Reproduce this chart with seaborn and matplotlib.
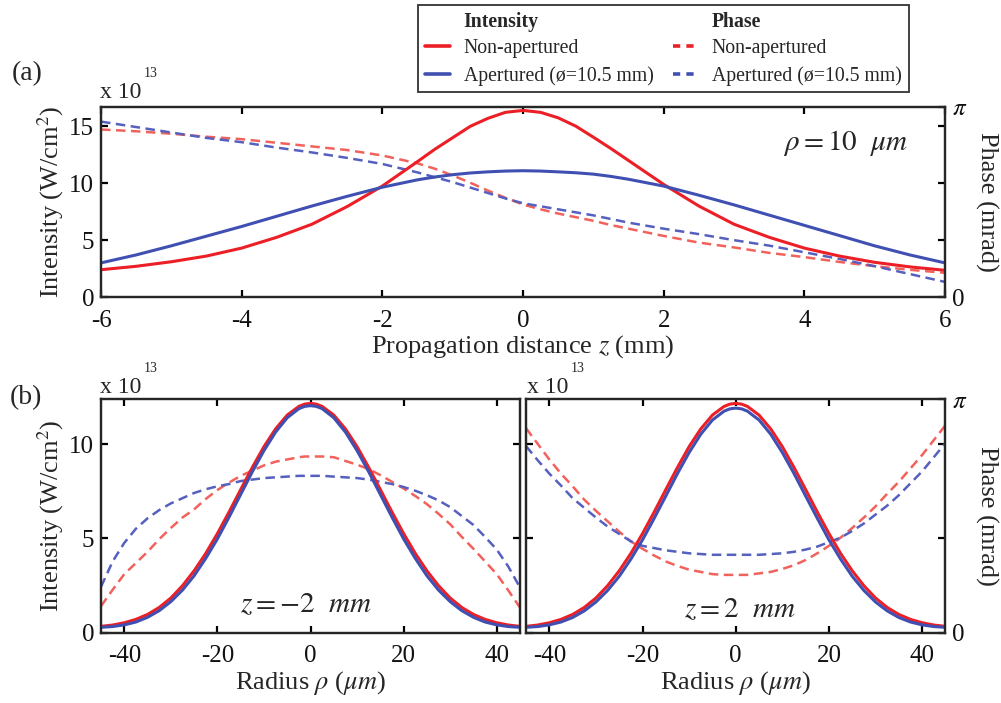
import numpy as np
import matplotlib
matplotlib.use("Agg")
import matplotlib.pyplot as plt
from matplotlib.lines import Line2D
import seaborn as sns

# ---------------- data ----------------
# (a) profiles at rho = 10 um along the propagation distance z (mm)
z = [-6, -5.5, -5, -4.5, -4, -3.5, -3, -2.5, -2, -1.5, -1.25, -1, -0.75, -0.5, -0.25, 0,
     0.25, 0.5, 0.75, 1, 1.25, 1.5, 2, 2.5, 3, 3.5, 4, 4.5, 5, 5.5, 6]
int_z_nonap = [2.4, 2.7, 3.1, 3.6, 4.3, 5.25, 6.4, 7.95, 9.75, 11.9, 13.0, 14.0, 15.0, 15.7, 16.23, 16.4,
               16.23, 15.75, 15.02, 14.05, 13.05, 12.0, 9.9, 8.0, 6.4, 5.25, 4.3, 3.6, 3.05, 2.65, 2.35]  # x 1e13 W/cm^2
int_z_ap = [3.0, 3.7, 4.5, 5.35, 6.2, 7.1, 8.0, 8.85, 9.65, 10.3, 10.55, 10.75, 10.9, 11.0, 11.07, 11.1,
            11.07, 11.0, 10.92, 10.8, 10.6, 10.35, 9.75, 8.95, 8.1, 7.2, 6.3, 5.4, 4.5, 3.7, 3.0]
phase_z_nonap = [2.77, 2.74, 2.70, 2.65, 2.61, 2.55, 2.49, 2.43, 2.34, 2.21, 2.12, 2.01, 1.89, 1.76, 1.64, 1.53,
                 1.45, 1.38, 1.32, 1.26, 1.19, 1.13, 1.01, 0.90, 0.82, 0.73, 0.66, 0.58, 0.51, 0.45, 0.40]  # rad
phase_z_ap = [2.90, 2.81, 2.72, 2.63, 2.56, 2.47, 2.39, 2.30, 2.20, 2.06, 1.98, 1.90, 1.81, 1.72, 1.63, 1.55,
              1.50, 1.45, 1.40, 1.35, 1.29, 1.23, 1.13, 1.04, 0.94, 0.85, 0.74, 0.63, 0.51, 0.38, 0.25]

# (b) radial profiles (rho in um) at z = -2 mm and z = 2 mm
rho = [-45, -42.5, -40, -37.5, -35, -32.5, -30, -27.5, -25, -22.5, -20, -17.5, -15, -12.5,
       -10, -7.5, -5, -2.5, -1.25, 0, 1.25, 2.5, 5, 7.5, 10, 12.5, 15, 17.5, 20, 22.5, 25, 27.5, 30,
       32.5, 35, 37.5, 40, 42.5, 45]

int_m2_nonap = [0.35, 0.42, 0.54, 0.72, 0.98, 1.35, 1.85, 2.50, 3.29, 4.21, 5.26, 6.40, 7.59, 8.76,
                9.86, 10.80, 11.53, 11.99, 12.11, 12.15, 12.11, 11.99, 11.53, 10.80, 9.86, 8.76, 7.59,
                6.40, 5.26, 4.21, 3.29, 2.50, 1.85, 1.35, 0.98, 0.72, 0.54, 0.42, 0.35]
int_m2_ap = [0.30, 0.34, 0.43, 0.58, 0.83, 1.18, 1.66, 2.27, 3.03, 3.95, 4.98, 6.13, 7.33, 8.53,
             9.65, 10.63, 11.39, 11.87, 11.99, 12.03, 11.99, 11.87, 11.39, 10.63, 9.65, 8.53, 7.33,
             6.13, 4.98, 3.95, 3.03, 2.27, 1.66, 1.18, 0.83, 0.58, 0.43, 0.34, 0.30]
phase_m2_nonap = [0.36, 0.58, 0.79, 0.94, 1.09, 1.26, 1.41, 1.55, 1.66, 1.80, 1.92, 2.02, 2.11, 2.18,
                  2.25, 2.30, 2.33, 2.36, 2.37, 2.37, 2.37, 2.37, 2.36, 2.31, 2.26, 2.20, 2.12,
                  2.03, 1.94, 1.84, 1.73, 1.60, 1.46, 1.29, 1.13, 0.96, 0.79, 0.57, 0.34]
phase_m2_ap = [0.62, 0.96, 1.21, 1.40, 1.54, 1.65, 1.74, 1.81, 1.88, 1.93, 1.97, 2.00, 2.04, 2.06,
               2.08, 2.09, 2.10, 2.11, 2.11, 2.11, 2.11, 2.11, 2.10, 2.09, 2.08, 2.06, 2.03,
               2.00, 1.96, 1.91, 1.85, 1.78, 1.69, 1.57, 1.45, 1.29, 1.12, 0.89, 0.61]

int_p2_nonap = [0.35, 0.42, 0.54, 0.72, 0.98, 1.35, 1.85, 2.50, 3.29, 4.21, 5.26, 6.40, 7.59, 8.76,
                9.86, 10.80, 11.53, 11.99, 12.11, 12.15, 12.11, 11.99, 11.53, 10.80, 9.86, 8.76, 7.59,
                6.40, 5.26, 4.21, 3.29, 2.50, 1.85, 1.35, 0.98, 0.72, 0.54, 0.42, 0.35]
int_p2_ap = [0.30, 0.34, 0.43, 0.58, 0.82, 1.17, 1.64, 2.25, 3.00, 3.91, 4.93, 6.07, 7.25, 8.44,
             9.55, 10.52, 11.27, 11.74, 11.86, 11.90, 11.86, 11.74, 11.27, 10.52, 9.55, 8.44, 7.25,
             6.07, 4.93, 3.91, 3.00, 2.25, 1.64, 1.17, 0.82, 0.58, 0.43, 0.34, 0.30]
phase_p2_nonap = [2.75, 2.54, 2.33, 2.14, 1.97, 1.79, 1.64, 1.50, 1.36, 1.23, 1.13, 1.04, 0.96, 0.90,
                  0.85, 0.82, 0.79, 0.78, 0.78, 0.78, 0.78, 0.78, 0.80, 0.82, 0.86, 0.91, 0.98,
                  1.07, 1.17, 1.28, 1.41, 1.55, 1.70, 1.87, 2.03, 2.21, 2.39, 2.59, 2.79]
phase_p2_ap = [2.51, 2.32, 2.14, 1.98, 1.81, 1.68, 1.55, 1.43, 1.33, 1.23, 1.17, 1.14, 1.11, 1.09,
               1.07, 1.06, 1.05, 1.05, 1.05, 1.05, 1.05, 1.05, 1.05, 1.06, 1.07, 1.09, 1.12,
               1.16, 1.22, 1.28, 1.37, 1.47, 1.59, 1.71, 1.85, 2.01, 2.17, 2.36, 2.55]

z_ticks = [-6, -4, -2, 0, 2, 4, 6]
rho_ticks = [-40, -20, 0, 20, 40]
int_ticks_a = [0, 5, 10, 15]
int_ticks_b = [0, 5, 10]
INT_TOP_A = 16.7
INT_TOP_B = 12.38

# ---------------- style ----------------
sns.set_theme(style="ticks")
plt.rcParams["font.family"] = ["Liberation Serif", "DejaVu Serif"]
plt.rcParams["mathtext.fontset"] = "stix"
plt.rcParams["axes.unicode_minus"] = False
plt.rcParams["axes.linewidth"] = 1.6
for k in ("xtick", "ytick"):
    plt.rcParams[f"{k}.direction"] = "in"
    plt.rcParams[f"{k}.major.size"] = 5
    plt.rcParams[f"{k}.major.width"] = 1.6
    plt.rcParams[f"{k}.labelsize"] = 18
    plt.rcParams[f"{k}.color"] = "black"
    plt.rcParams[f"{k}.labelcolor"] = "#111111"

RED = "#ec1f26"
BLUE = "#4050b2"
RED_D = "#f2625c"
BLUE_D = "#5560bf"
LW_SOLID = 2.2
LW_DASH = 1.8
DASH = (0, (3.8, 2.2))
FS_LABEL = 19

fig = plt.figure(figsize=(10.01, 7.03), dpi=100)
ax_a = fig.add_axes([0.1009, 0.5775, 0.8431, 0.2703])
ax_b1 = fig.add_axes([0.1009, 0.0996, 0.4186, 0.3328])
ax_b2 = fig.add_axes([0.5255, 0.0996, 0.4190, 0.3328])


def draw(ax, x, i_non, i_ap, p_non, p_ap, xlim, ylim_top):
    ax2 = ax.twinx()
    sns.lineplot(x=x, y=p_non, ax=ax2, color=RED_D, lw=LW_DASH, linestyle=DASH)
    sns.lineplot(x=x, y=p_ap, ax=ax2, color=BLUE_D, lw=LW_DASH, linestyle=DASH)
    sns.lineplot(x=x, y=i_non, ax=ax, color=RED, lw=LW_SOLID)
    sns.lineplot(x=x, y=i_ap, ax=ax, color=BLUE, lw=LW_SOLID)
    for ln in ax.get_lines() + ax2.get_lines():
        ln.set_solid_joinstyle("round")
    ax.set_zorder(ax2.get_zorder() + 1)
    ax.patch.set_visible(False)
    ax.set_xlim(*xlim)
    ax.set_ylim(0, ylim_top)
    ax2.set_ylim(0, np.pi)
    ax.set_xlabel("")
    ax.set_ylabel("")
    ax2.set_ylabel("")
    ax.tick_params(axis="x", top=True, pad=9)
    ax.tick_params(axis="y", right=False, pad=5)
    ax2.tick_params(axis="y", pad=5)
    for s in ax2.spines.values():
        s.set_linewidth(1.6)
    return ax2


# (a)
ax_a2 = draw(ax_a, z, int_z_nonap, int_z_ap, phase_z_nonap, phase_z_ap, (-6, 6), INT_TOP_A)
ax_a.set_xticks(z_ticks)
ax_a.set_yticks(int_ticks_a)
ax_a.set_xlabel("Propagation distance $z$ (mm)", fontsize=FS_LABEL, labelpad=1)
ax_a.set_ylabel("Intensity (W/cm$^2$)", fontsize=FS_LABEL, labelpad=2)
rt = [0] + [t / INT_TOP_A * np.pi for t in int_ticks_a[1:]] + [np.pi]
ax_a2.set_yticks(rt)
ax_a2.set_yticklabels(["0"] + [""] * (len(rt) - 2) + [r"$\pi$"])
ax_a2.set_ylabel("Phase (mrad)", fontsize=FS_LABEL, rotation=270, labelpad=22)
ax_a.text(3.7, 13.5, r"$\rho = 10\ \ \mu m$", fontsize=21, va="center", ha="left")

# (b) z = -2 mm
ax_b1r = draw(ax_b1, rho, int_m2_nonap, int_m2_ap, phase_m2_nonap, phase_m2_ap, (-45, 45), INT_TOP_B)
ax_b1.set_xticks(rho_ticks)
ax_b1.set_yticks(int_ticks_b)
ax_b1r.set_yticks([t / INT_TOP_B * np.pi for t in int_ticks_b[1:]])
ax_b1r.set_yticklabels([])
ax_b1.set_xlabel(r"Radius $\rho$ ($\mu m$)", fontsize=FS_LABEL, labelpad=1)
ax_b1.set_ylabel("Intensity (W/cm$^2$)", fontsize=FS_LABEL, labelpad=2)
ax_b1.text(-1, 1.5, r"$z = -2\ \ mm$", fontsize=21, va="center", ha="center")

# (b) z = 2 mm
ax_b2r = draw(ax_b2, rho, int_p2_nonap, int_p2_ap, phase_p2_nonap, phase_p2_ap, (-45, 45), INT_TOP_B)
ax_b2.set_xticks(rho_ticks)
ax_b2.set_yticks(int_ticks_b)
ax_b2.set_yticklabels([])
rb = [0] + [t / INT_TOP_B * np.pi for t in int_ticks_b[1:]] + [np.pi]
ax_b2r.set_yticks(rb)
ax_b2r.set_yticklabels(["0"] + [""] * (len(rb) - 2) + [r"$\pi$"])
ax_b2.set_xlabel(r"Radius $\rho$ ($\mu m$)", fontsize=FS_LABEL, labelpad=1)
ax_b2r.set_ylabel("Phase (mrad)", fontsize=FS_LABEL, rotation=270, labelpad=22)
ax_b2.text(1, 1.2, r"$z = 2\ \ mm$", fontsize=21, va="center", ha="center")

# scale factors and panel tags
for (xp, yb, ys) in [(0.100, 0.861, 0.895), (0.100, 0.441, 0.476), (0.526, 0.441, 0.476)]:
    fig.text(xp, yb, "x 10", fontsize=17, ha="left", va="baseline")
    fig.text(xp + 0.044, ys, "13", fontsize=10, ha="left", va="center")
fig.text(0.012, 0.895, "(a)", fontsize=20, va="center")
fig.text(0.010, 0.434, "(b)", fontsize=20, va="center")

# legend
blank = Line2D([], [], color="none")
handles = [blank,
           Line2D([], [], color=RED, lw=2.6),
           Line2D([], [], color=BLUE, lw=2.6),
           blank,
           Line2D([], [], color=RED, lw=2.6, linestyle=(0, (2.0, 1.7))),
           Line2D([], [], color=BLUE, lw=2.6, linestyle=(0, (2.0, 1.7)))]
labels = ["Intensity", "Non-apertured", "Apertured (ø=10.5 mm)",
          "Phase", "Non-apertured", "Apertured (ø=10.5 mm)"]
leg = fig.legend(handles, labels, ncol=2, loc="upper left", bbox_to_anchor=(0.418, 0.993),
                 fontsize=14.2, frameon=True, fancybox=False, edgecolor="black",
                 handlelength=1.25, handletextpad=0.7, columnspacing=1.0,
                 labelspacing=0.38, borderpad=0.35, borderaxespad=0)
leg.get_frame().set_linewidth(1.3)
for t in leg.get_texts():
    if t.get_text() in ("Intensity", "Phase"):
        t.set_fontweight("bold")

fig.savefig("out.png", dpi=100)
